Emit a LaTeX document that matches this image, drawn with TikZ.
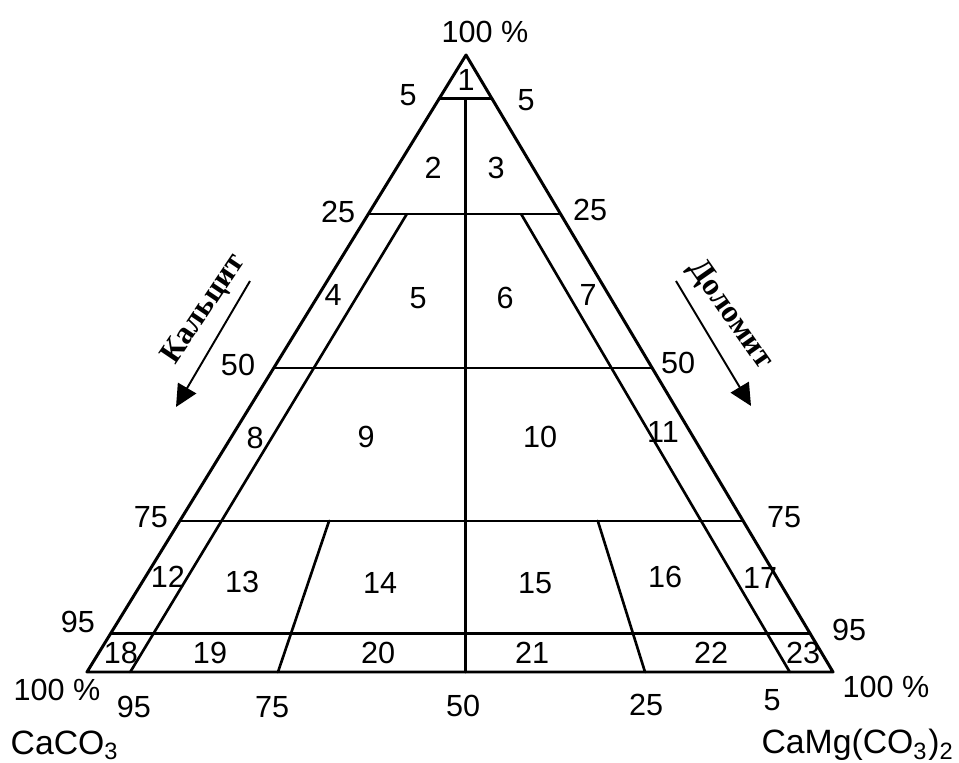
\documentclass[tikz,border=0pt]{standalone}
\usepackage{fontspec}
\setmainfont{Liberation Sans}
\newfontfamily\cyrfont{Liberation Serif}
\usetikzlibrary{arrows.meta,calc}
\usepackage{tkz-euclide}

\tikzset{
  numlbl/.style={font=\fontsize{8.7}{10}\selectfont,inner sep=0pt},
  chemlbl/.style={font=\fontsize{9.6}{11}\selectfont,inner sep=0pt},
  minlbl/.style={font=\cyrfont\bfseries\fontsize{9}{10}\selectfont,inner sep=0pt},
  minarrow/.style={line width=0.55pt,-{Triangle[length=2.2mm,width=2.1mm]}}
}

\begin{document}
\begin{tikzpicture}
\useasboundingbox (0,0) rectangle (9.59,7.62);
\tkzSetUpLine[line width=0.85pt,color=black]

\tkzDefPoints{4.66/7.07/A,0.87/0.90/L,8.33/0.90/R}

% levels on the two sides
\coordinate (L1) at ($(A)!.071!(L)$) ; \coordinate (R1) at ($(A)!.071!(R)$);
\coordinate (L2) at ($(A)!.258!(L)$) ; \coordinate (R2) at ($(A)!.258!(R)$);
\coordinate (L3) at ($(A)!.507!(L)$) ; \coordinate (R3) at ($(A)!.507!(R)$);
\coordinate (L4) at ($(A)!.755!(L)$) ; \coordinate (R4) at ($(A)!.755!(R)$);
\coordinate (L5) at ($(A)!.938!(L)$) ; \coordinate (R5) at ($(A)!.938!(R)$);

% points on the base
\coordinate (B5)  at ($(L)!.058!(R)$);
\coordinate (B25) at ($(L)!.256!(R)$);
\coordinate (B50) at ($(L)!.507!(R)$);
\coordinate (B75) at ($(L)!.748!(R)$);
\coordinate (B95) at ($(L)!.942!(R)$);

% upper ends of the inner lines
\coordinate (S1) at ($(L2)!.2!(R2)$);
\coordinate (S2) at ($(L2)!.795!(R2)$);
\coordinate (Q1) at ($(L4)!.265!(R4)$);
\coordinate (Q2) at ($(L4)!.742!(R4)$);
\coordinate (T)  at (B50 |- L1);

\tkzDrawSegments[line width=0.75pt](L1,R1 L2,R2 L3,R3 L4,R4 L5,R5 T,B50 S1,B5 S2,B95 Q1,B25 Q2,B75)
\tkzDrawPolygon(A,L,R)

% field numbers
\foreach \n/\x/\y in {1/4.66/6.82,2/4.33/5.94,3/4.96/5.94,4/3.33/4.67,5/4.18/4.64,
  6/5.05/4.64,7/5.88/4.67,8/2.55/3.24,9/3.66/3.25,10/5.40/3.25,11/6.63/3.30,
  12/1.68/1.85,13/2.42/1.80,14/3.80/1.79,15/5.35/1.79,16/6.65/1.85,17/7.60/1.84,
  18/1.21/1.09,19/2.10/1.09,20/3.78/1.09,21/5.32/1.09,22/7.11/1.09,23/8.03/1.09}
  \node[numlbl] (f\n) at (\x,\y) {\n};

% scale on the left side
\foreach \v/\x/\y [count=\i] in {5/4.08/6.67,25/3.38/5.50,50/2.38/3.97,75/1.51/2.45,95/0.78/1.40}
  \node[numlbl] (sl\i) at (\x,\y) {\v};
% scale on the right side
\foreach \v/\x/\y [count=\i] in {5/5.26/6.62,25/5.90/5.52,50/6.78/3.99,75/7.84/2.45,95/8.49/1.32}
  \node[numlbl] (sr\i) at (\x,\y) {\v};
% scale on the base
\foreach \v/\x/\y [count=\i] in {95/1.34/0.55,75/2.72/0.55,50/4.63/0.56,25/6.46/0.57,5/7.72/0.62}
  \node[numlbl] (sb\i) at (\x,\y) {\v};

\node[numlbl] (top) at (4.85,7.30) {100 \%};
\node[numlbl] (lft) at (0.57,0.72) {100 \%};
\node[numlbl] (rgt) at (8.86,0.75) {100 \%};

\node[chemlbl] (cal) at (0.65,0.17) {CaCO\textsubscript{3}};
\node[chemlbl] (dol) at (8.58,0.17) {CaMg(CO\textsubscript{3})\textsubscript{2}};

% arrows with the mineral names
\coordinate (KA1) at (2.50,4.81); \coordinate (KA2) at (1.76,3.55);
\coordinate (DA1) at (6.76,4.81); \coordinate (DA2) at (7.51,3.56);
\draw[minarrow] (KA1) -- (KA2);
\draw[minarrow] (DA1) -- (DA2);
\node[minlbl,rotate=56] (kname) at (2.04,4.53) {Кальцит};
\node[minlbl,rotate=-55] (dname) at (7.30,4.47) {Доломит};

\end{tikzpicture}
\end{document}
